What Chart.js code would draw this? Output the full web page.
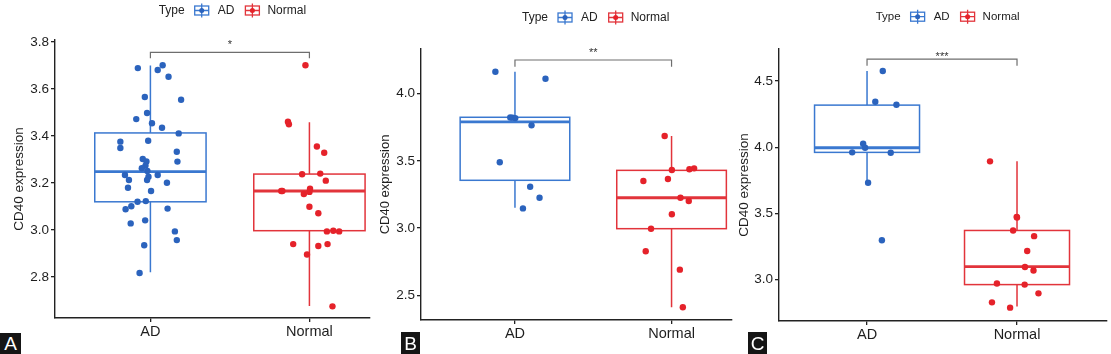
<!DOCTYPE html>
<html>
<head>
<meta charset="utf-8">
<script src="https://cdn.jsdelivr.net/npm/chart.js@4"></script>
<style>
  body { margin: 0; background: #fff; }
  #wrap { position: relative; width: 1111px; height: 354px; overflow: hidden; background: #fff; }
  .panel { position: absolute; top: 0; }
  .tag { position: absolute; background: #151515; color: #fff; text-align: center;
         font: 19px "Liberation Sans", Arial, sans-serif; }
</style>
</head>
<body>
<div id="wrap">
  <canvas id="chartA" class="panel" width="374" height="354" style="left:0"></canvas>
  <canvas id="chartB" class="panel" width="362" height="354" style="left:374px"></canvas>
  <canvas id="chartC" class="panel" width="375" height="354" style="left:736px"></canvas>
  <div class="tag" style="left:0;top:333px;width:21px;height:21px;line-height:22px">A</div>
  <div class="tag" style="left:401px;top:332px;width:19px;height:22px;line-height:23px">B</div>
  <div class="tag" style="left:748px;top:332px;width:19px;height:22px;line-height:23px">C</div>
</div>
<script>
const categories = ["AD", "Normal"];
const FONT = '"Liberation Sans", Arial, sans-serif';
const AD_POINT = "#2b63bd", AD_BOX = "#3a78d0";
const NORMAL_POINT = "#e5222a", NORMAL_BOX = "#e2343b";

// ---- panel A ----
const adA = [3.689,3.681,3.701,3.652,3.554,3.566,3.498,3.472,3.454,3.435,3.411,3.376,3.380,3.349,3.333,3.302,3.292,3.291,3.274,3.263,
             3.251,3.234,3.227,3.234,3.213,3.213,3.201,3.180,3.166,3.120,3.123,3.088,3.101,3.091,3.028,3.041,2.994,2.957,2.935,2.817];
const adJitterA = [-0.079,0.046,0.077,0.114,0.193,-0.035,-0.021,-0.089,0.010,0.073,0.178,-0.189,-0.014,-0.189,0.166,-0.048,-0.025,0.170,-0.031,-0.054,
                   -0.019,-0.160,-0.012,0.046,-0.135,-0.021,0.104,-0.141,0.004,-0.081,-0.029,-0.156,-0.120,0.108,-0.124,-0.033,0.154,0.166,-0.039,-0.068];
const normalA = [3.701,3.461,3.450,3.355,3.329,3.237,3.240,3.210,3.166,3.166,3.176,3.153,3.162,3.099,3.071,2.994,2.997,2.994,2.940,2.932,2.940,2.896,2.675];
const normalJitterA = [-0.025,-0.135,-0.129,0.047,0.093,-0.046,0.068,0.103,-0.177,-0.170,0.004,-0.035,0.000,0.000,0.056,0.110,0.150,0.187,-0.102,0.056,0.114,-0.015,0.145];
// [lower whisker, q1, median, q3, upper whisker]
const boxA = [[2.820,3.120,3.248,3.413,3.700], [2.677,2.997,3.166,3.238,3.458]];
const ticksA = [2.8,3.0,3.2,3.4,3.6,3.8];

// ---- panel B ----
const adB = [4.163,4.111,3.822,3.821,3.818,3.764,3.489,3.307,3.225,3.146];
const adJitterB = [-0.125,0.195,-0.030,-0.015,0.002,0.106,-0.097,0.097,0.157,0.051];
const normalB = [3.685,3.432,3.437,3.444,3.350,3.365,3.225,3.201,3.102,2.995,2.827,2.690,2.410];
const normalJitterB = [-0.044,0.002,0.114,0.144,-0.180,-0.023,0.057,0.110,0.002,-0.131,-0.165,0.053,0.072];
const boxB = [[3.151,3.355,3.789,3.824,4.163], [2.410,2.995,3.225,3.429,3.685]];
const ticksB = [2.5,3.0,3.5,4.0];

// ---- panel C ----
const adC = [4.576,4.343,4.321,4.026,3.996,3.961,3.958,3.731,3.297];
const adJitterC = [0.105,0.055,0.196,-0.026,-0.013,-0.099,0.158,0.007,0.099];
const normalC = [3.893,3.474,3.469,3.371,3.328,3.216,3.095,3.068,2.970,2.962,2.896,2.828,2.788];
const normalJitterC = [-0.180,-0.002,0.000,-0.026,0.114,0.068,0.053,0.110,-0.134,0.051,0.143,-0.167,-0.046];
const boxC = [[3.734,3.961,3.996,4.318,4.576], [2.796,2.962,3.098,3.371,3.893]];
const ticksC = [3.0,3.5,4.0,4.5];

// significance marks: [bracket top, bracket end, label position]
const signifA = [3.756, 3.731, 3.797], labelA = "*";
const signifB = [4.250, 4.200, 4.319], labelB = "**";
const signifC = [4.666, 4.616, 4.700], labelC = "***";

// box + whiskers drawn under the points
const boxPlugin = {
  id: "boxes",
  beforeDatasetsDraw(chart, args, opts) {
    const { ctx, scales: { x, y } } = chart;
    opts.stats.forEach((s, i) => {
      const cx = x.getPixelForValue(i + 1);
      const half = x.getPixelForValue(i + 1 + opts.width / 2) - cx;
      const [lo, q1, med, q3, hi] = s.map(v => y.getPixelForValue(v));
      ctx.save();
      ctx.strokeStyle = opts.colors[i];
      ctx.lineWidth = 1.5;
      ctx.beginPath();
      ctx.moveTo(cx, hi); ctx.lineTo(cx, q3);
      ctx.moveTo(cx, q1); ctx.lineTo(cx, lo);
      ctx.stroke();
      ctx.fillStyle = "#fff";
      ctx.fillRect(cx - half, q3, 2 * half, q1 - q3);
      ctx.strokeRect(cx - half, q3, 2 * half, q1 - q3);
      ctx.lineWidth = 2.8;
      ctx.beginPath();
      ctx.moveTo(cx - half, med); ctx.lineTo(cx + half, med);
      ctx.stroke();
      ctx.restore();
    });
  }
};

function drawKey(ctx, x, yc, boxColor, dotColor) {
  ctx.save();
  ctx.strokeStyle = boxColor;
  ctx.lineWidth = 1.3;
  ctx.beginPath();
  ctx.moveTo(x + 8, yc - 7); ctx.lineTo(x + 8, yc + 7);
  ctx.moveTo(x + 1, yc); ctx.lineTo(x + 15, yc);
  ctx.stroke();
  ctx.strokeRect(x + 1, yc - 4.5, 14, 9);
  ctx.fillStyle = dotColor;
  ctx.beginPath(); ctx.arc(x + 8, yc, 2.5, 0, Math.PI * 2); ctx.fill();
  ctx.restore();
}

// bracket, stars and the "Type" legend
const notePlugin = {
  id: "notes",
  afterDraw(chart, args, opts) {
    const { ctx, scales: { x, y } } = chart;
    const x1 = x.getPixelForValue(1), x2 = x.getPixelForValue(2);
    const yTop = y.getPixelForValue(opts.signif[0]), yEnd = y.getPixelForValue(opts.signif[1]);
    ctx.save();
    ctx.strokeStyle = "#6e6e6e";
    ctx.lineWidth = 1.2;
    ctx.beginPath();
    ctx.moveTo(x1, yEnd); ctx.lineTo(x1, yTop); ctx.lineTo(x2, yTop); ctx.lineTo(x2, yEnd);
    ctx.stroke();
    ctx.fillStyle = "#333";
    ctx.font = "11px " + FONT;
    ctx.textAlign = "center";
    ctx.textBaseline = "alphabetic";
    ctx.fillText(opts.label, (x1 + x2) / 2, y.getPixelForValue(opts.signif[2]) + 5.5);

    // legend
    const lg = opts.legend;
    ctx.font = lg.size + "px " + FONT;
    ctx.fillStyle = "#222";
    ctx.textAlign = "left";
    ctx.textBaseline = "middle";
    let px = lg.x;
    ctx.fillText("Type", px, lg.y);
    px += ctx.measureText("Type").width + 9;
    drawKey(ctx, px, lg.y, AD_BOX, AD_POINT);
    px += 24;
    ctx.fillText(categories[0], px, lg.y);
    px += ctx.measureText(categories[0]).width + 10;
    drawKey(ctx, px, lg.y, NORMAL_BOX, NORMAL_POINT);
    px += 23;
    ctx.fillText(categories[1], px, lg.y);
    ctx.restore();
  }
};

function makePanel(id, p) {
  const toPoints = (vals, jit, cat) => vals.map((v, i) => ({ x: cat + jit[i], y: v }));
  return new Chart(document.getElementById(id), {
    type: "scatter",
    data: {
      datasets: [
        { label: categories[0], data: toPoints(p.ad, p.adJit, 1), backgroundColor: AD_POINT, borderWidth: 0, pointRadius: 3.2 },
        { label: categories[1], data: toPoints(p.normal, p.normalJit, 2), backgroundColor: NORMAL_POINT, borderWidth: 0, pointRadius: 3.2 }
      ]
    },
    options: {
      responsive: false,
      devicePixelRatio: 1,
      animation: false,
      events: [],
      layout: { padding: { top: p.top, left: 0, right: p.right, bottom: 0 } },
      scales: {
        x: {
          type: "linear",
          min: p.xMin, max: p.xMax,
          afterBuildTicks: s => { s.ticks = categories.map((c, i) => ({ value: i + 1 })); },
          afterFit: s => { s.height = p.xHeight; },
          ticks: { callback: v => categories[v - 1] || "", color: "#1e1e1e", padding: 1, maxRotation: 0,
                   font: { family: FONT, size: 14.5 } },
          grid: { drawOnChartArea: false, tickLength: 4, color: "#222", lineWidth: 1.3 },
          border: { color: "#222", width: 1.4 }
        },
        y: {
          min: p.yMin, max: p.yMax,
          afterBuildTicks: s => { s.ticks = p.ticks.map(v => ({ value: v })); },
          afterFit: s => { s.width = p.yWidth; },
          ticks: { callback: v => v.toFixed(1), color: "#1e1e1e", padding: 2,
                   font: { family: FONT, size: p.tickSize } },
          grid: { drawOnChartArea: false, tickLength: 4, color: "#222", lineWidth: 1.3 },
          border: { color: "#222", width: 1.4 },
          title: { display: true, text: "CD40 expression", color: "#1e1e1e",
                   font: { family: FONT, size: p.titleSize }, padding: { top: p.titlePad, bottom: 0 } }
        }
      },
      plugins: {
        legend: { display: false },
        tooltip: { enabled: false },
        boxes: { stats: p.box, colors: [AD_BOX, NORMAL_BOX], width: 0.7 },
        notes: { signif: p.signif, label: p.label, legend: p.legend }
      }
    },
    plugins: [boxPlugin, notePlugin]
  });
}

makePanel("chartA", {
  ad: adA, adJit: adJitterA, normal: normalA, normalJit: normalJitterA, box: boxA, ticks: ticksA,
  signif: signifA, label: labelA,
  xMin: 0.4, xMax: 2.381, yMin: 2.6255, yMax: 3.8085,
  top: 40, right: 1, yWidth: 55, xHeight: 36, tickSize: 13.5, titleSize: 13.5, titlePad: 11,
  legend: { x: 158.7, y: 10.5, size: 12 }
});
makePanel("chartB", {
  ad: adB, adJit: adJitterB, normal: normalB, normalJit: normalJitterB, box: boxB, ticks: ticksB,
  signif: signifB, label: labelB,
  xMin: 0.4, xMax: 2.386, yMin: 2.3155, yMax: 4.332,
  top: 49, right: 4, yWidth: 47, xHeight: 34, tickSize: 13.5, titleSize: 13, titlePad: 4,
  legend: { x: 148, y: 17.5, size: 12 }
});
makePanel("chartC", {
  ad: adC, adJit: adJitterC, normal: normalC, normalJit: normalJitterC, box: boxC, ticks: ticksC,
  signif: signifC, label: labelC,
  xMin: 0.413, xMax: 2.6, yMin: 2.687, yMax: 4.742,
  top: 49, right: 0, yWidth: 43, xHeight: 33, tickSize: 13.5, titleSize: 13.5, titlePad: 0.5,
  legend: { x: 139.7, y: 16.7, size: 11.5 }
});
</script>
</body>
</html>
